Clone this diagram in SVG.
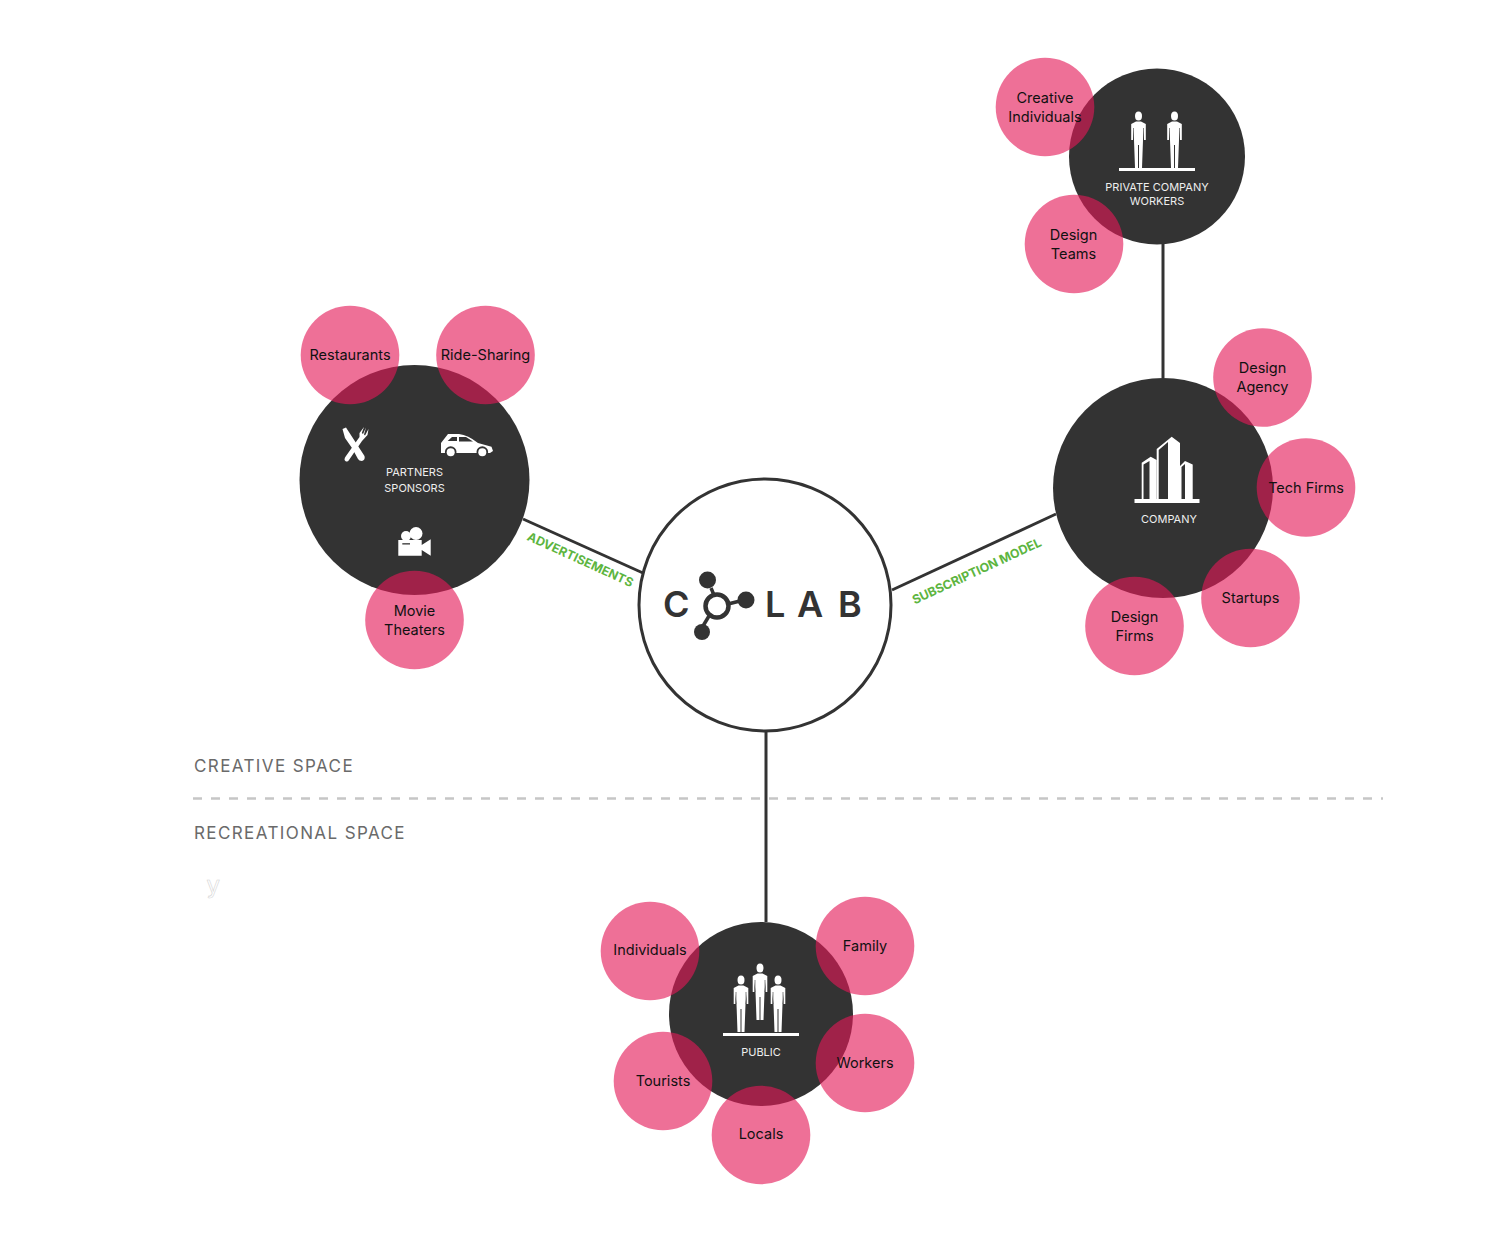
<svg xmlns="http://www.w3.org/2000/svg" width="1486" height="1244" viewBox="0 0 1486 1244">
<defs>
<style>
.dark{fill:#333}
.pink{fill:#E31857;fill-opacity:.62}
.lab{font-family:Inter,"Liberation Sans",sans-serif;font-size:14.500px;fill:#111;text-anchor:middle}
.cap{font-family:Inter,"Liberation Sans",sans-serif;font-size:11px;fill:#eee;text-anchor:middle}
.space{font-family:Inter,"Liberation Sans",sans-serif;font-size:17px;fill:#6a6a6a;letter-spacing:1.400px}
.green{font-family:Inter,"Liberation Sans",sans-serif;font-size:12.400px;font-weight:700;fill:#5DB53F;text-anchor:middle}
.logo{font-family:Inter,"Liberation Sans",sans-serif;font-size:36px;font-weight:600;fill:#333}
.link{stroke:#333;stroke-width:3;fill:none}
.w{fill:#fff}
</style>
<g id="man">
<ellipse cx="0" cy="-25" rx="3.500" ry="4.500"/>
<path d="M-2.500-19.500H2.500L7.300-17V-1H5.500V-11L4.500-1L3.500 27H.5V4H-.5V27H-3.500L-4.500-1L-5.500-11V-1H-7.300V-17Z"/>
<path d="M-5-13V-1M5-13V-1" stroke="#333" stroke-width=".6"/>
</g>
</defs>
<rect width="1486" height="1244" fill="#fff"/>
<g id="connectors">
<line class="link" x1="523" y1="519" x2="643" y2="573"/>
<line class="link" x1="892" y1="590" x2="1056" y2="514"/>
<line class="link" x1="1163" y1="244" x2="1163" y2="378"/>
<line class="link" x1="766" y1="731" x2="766" y2="922"/>
<line x1="193" y1="798.500" x2="1383" y2="798.500" stroke="#c6c6c6" stroke-width="2.500" stroke-dasharray="9 9"/>
</g>
<g id="labels">
<text class="green" transform="translate(578.500 563.500) rotate(24.500)">ADVERTISEMENTS</text>
<text class="green" transform="translate(978.500 575) rotate(-24.800)">SUBSCRIPTION MODEL</text>
<text class="space" x="194" y="772">CREATIVE SPACE</text>
<text class="space" x="194" y="839">RECREATIONAL SPACE</text>
<text x="206.500" y="893" font-family="Inter,sans-serif" font-size="24" fill="#fff" stroke="#d4d4d4" stroke-width=".6">y</text>
</g>
<g id="colab">
<circle cx="765" cy="605" r="126" fill="#fff" stroke="#333" stroke-width="3"/>
<text class="logo" x="663" y="617">C</text>
<g stroke="#333" stroke-width="3.500" fill="none">
<circle cx="717" cy="606" r="11.500" stroke-width="4.500"/>
<line x1="711" y1="588" x2="714" y2="595"/>
<line x1="728" y1="604" x2="740" y2="601"/>
<line x1="709" y1="616" x2="703" y2="626"/>
</g>
<circle class="dark" cx="707.500" cy="580" r="8.500"/>
<circle class="dark" cx="746" cy="600" r="8.500"/>
<circle class="dark" cx="702" cy="632" r="8"/>
<text class="logo" x="765 797 838" y="617">LAB</text>
</g>
<g id="partners">
<circle class="dark" cx="414.500" cy="480" r="115"/>
<text class="cap" x="414.500" y="476">PARTNERS</text>
<text class="cap" x="414.500" y="491.500">SPONSORS</text>
<g class="w">
<path d="M342.500 429L346 427.500L364.500 456Q365.500 460 362 461Q359 461 358 459L352 448L345 438Z"/>
<path d="M346 461.500Q343 460 346 456L359.500 437L359.500 433L364 427L361.800 433L363 434L366 427.500L364 434.500L365 435.500L368.500 429L367.500 435L362 441L349 460Q348 462 346 461.500Z"/>
<path d="M441 452V443L448 434H459Q468 435 478 443L491.500 446.700L493 451L490 453H441Z"/>
<path d="M447.700 441L452 437H457V441ZM459 437H466L473 441.500H459Z" fill="#333"/>
<circle cx="450.700" cy="452" r="5.800" fill="#333"/>
<circle cx="482.300" cy="452" r="5.800" fill="#333"/>
<circle cx="450.700" cy="452.300" r="4"/>
<circle cx="482.300" cy="452.300" r="4"/>
<circle cx="406" cy="536" r="5"/>
<circle cx="416" cy="533.500" r="6.500"/>
<path d="M398.300 540H421.700V545L430.700 539.300V555.700L421.700 550V555.700H398.300Z"/>
</g>
<rect x="402.300" y="543.200" width="7.700" height="1.300" fill="#333"/>
</g>
<g id="company">
<circle class="dark" cx="1163" cy="488" r="110"/>
<rect class="w" x="1134.500" y="499" width="65" height="4"/>
<g class="w">
<path fill-rule="evenodd" d="M1141.700 499V462.700L1150.700 456.700L1156.700 460V499ZM1143.500 499H1149.500V461L1143.500 464.500Z"/>
<path fill-rule="evenodd" d="M1156.700 499V449L1171.700 436.700L1180 443V499ZM1158.700 499H1168V442L1158.700 450Z"/>
<path fill-rule="evenodd" d="M1180 499V466L1185 461L1192.700 464.500V499ZM1181.500 499H1185V464L1181.500 467Z"/>
</g>
<text class="cap" x="1169" y="523">COMPANY</text>
</g>
<g id="private">
<circle class="dark" cx="1157" cy="156.500" r="88"/>
<g class="w"><use href="#man" x="1138.500" y="141"/><use href="#man" x="1174.500" y="141"/></g>
<rect class="w" x="1119" y="168" width="76" height="3"/>
<text class="cap" x="1157" y="191">PRIVATE COMPANY</text>
<text class="cap" x="1157" y="205">WORKERS</text>
</g>
<g id="public">
<circle class="dark" cx="761" cy="1014" r="92"/>
<g class="w"><use href="#man" x="741" y="1005"/><use href="#man" x="760" y="993"/><use href="#man" x="778" y="1005"/></g>
<rect class="w" x="723" y="1033" width="76" height="3"/>
<text class="cap" x="761" y="1056">PUBLIC</text>
</g>
<g id="restaurants"><circle class="pink" cx="350" cy="355" r="49.300"/><text class="lab" x="350" y="360">Restaurants</text></g>
<g id="ride-sharing"><circle class="pink" cx="485.500" cy="355" r="49.300"/><text class="lab" x="485.500" y="360">Ride-Sharing</text></g>
<g id="movie-theaters"><circle class="pink" cx="414.500" cy="620" r="49.300"/><text class="lab" x="414.500" y="615.500">Movie</text><text class="lab" x="414.500" y="634.500">Theaters</text></g>
<g id="creative-individuals"><circle class="pink" cx="1045" cy="107" r="49.300"/><text class="lab" x="1045" y="103">Creative</text><text class="lab" x="1045" y="122">Individuals</text></g>
<g id="design-teams"><circle class="pink" cx="1074" cy="244" r="49.300"/><text class="lab" x="1073.500" y="239.500">Design</text><text class="lab" x="1073.500" y="258.500">Teams</text></g>
<g id="design-agency"><circle class="pink" cx="1262.500" cy="377.500" r="49.300"/><text class="lab" x="1262.500" y="372.500">Design</text><text class="lab" x="1262.500" y="391.500">Agency</text></g>
<g id="tech-firms"><circle class="pink" cx="1306" cy="487.500" r="49.300"/><text class="lab" x="1306" y="492.500">Tech Firms</text></g>
<g id="startups"><circle class="pink" cx="1250.500" cy="598" r="49.300"/><text class="lab" x="1250.500" y="603">Startups</text></g>
<g id="design-firms"><circle class="pink" cx="1134.500" cy="626" r="49.300"/><text class="lab" x="1134.500" y="621.500">Design</text><text class="lab" x="1134.500" y="640.500">Firms</text></g>
<g id="individuals"><circle class="pink" cx="650" cy="951" r="49.300"/><text class="lab" x="650" y="955">Individuals</text></g>
<g id="family"><circle class="pink" cx="865" cy="946" r="49.300"/><text class="lab" x="865" y="950.500">Family</text></g>
<g id="workers"><circle class="pink" cx="865" cy="1063" r="49.300"/><text class="lab" x="865" y="1067.500">Workers</text></g>
<g id="tourists"><circle class="pink" cx="663" cy="1081" r="49.300"/><text class="lab" x="663" y="1085.500">Tourists</text></g>
<g id="locals"><circle class="pink" cx="761" cy="1135" r="49.300"/><text class="lab" x="761" y="1138.500">Locals</text></g>
</svg>
